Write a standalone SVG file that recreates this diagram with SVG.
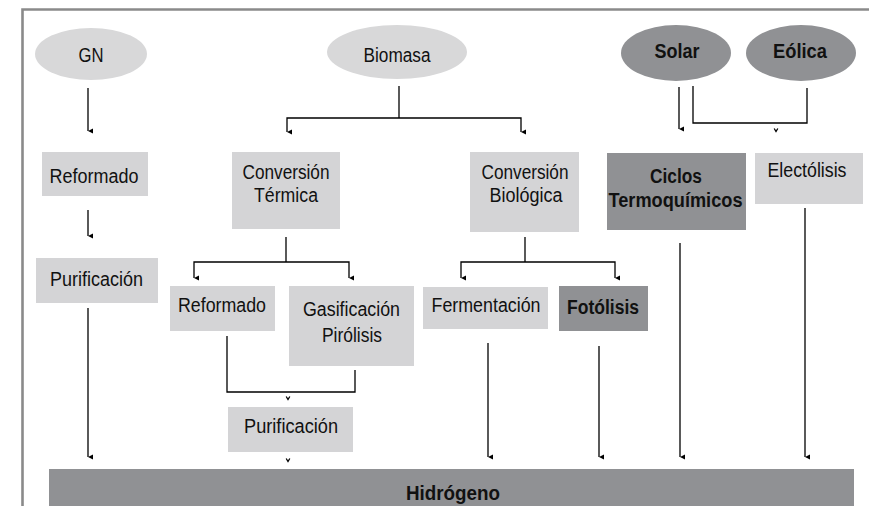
<svg xmlns="http://www.w3.org/2000/svg" width="869" height="506" viewBox="0 0 869 506">
<defs>
<marker id="ah" viewBox="0 0 6 6" refX="3" refY="6" markerWidth="6" markerHeight="6" markerUnits="userSpaceOnUse" orient="auto-start-reverse">
<path d="M0.6,1 L3,6 L5.4,1 Z" fill="#000"/>
</marker>
<style>
.lt{fill:#d4d4d6}
.el{fill:#d8d8d9}
.dk{fill:#909194}
.t{font-family:"Liberation Sans",Arial,sans-serif;font-size:20px;fill:#111;text-anchor:middle}
.b{font-weight:bold}
.c{fill:none;stroke:#000;stroke-width:1.3}
.ca{fill:none;stroke:#000;stroke-width:1.3;marker-end:url(#ah)}
.fr{fill:none;stroke:#8a8a8a;stroke-width:2.6}
</style>
</defs>
<rect width="869" height="506" fill="#fff"/>
<path class="fr" d="M22.5,506 V9.5 H869"/>

<g id="connectors">
<path class="ca" d="M88,88 V131"/>
<path class="ca" d="M88,210 V236"/>
<path class="ca" d="M88,308 V457"/>
<path class="c" d="M399,86 V118"/>
<path class="ca" d="M399,118 H287 V132"/>
<path class="ca" d="M399,118 H521 V132"/>
<path class="c" d="M286,237 V262"/>
<path class="ca" d="M286,262 H194 V278"/>
<path class="ca" d="M286,262 H349 V278"/>
<path class="c" d="M525,237 V262"/>
<path class="ca" d="M525,262 H461 V278"/>
<path class="ca" d="M525,262 H615 V278"/>
<path class="c" d="M227,336 V392 H355 V370"/>
<path class="c" d="M286.2,396.5 L288,399.5 L289.8,396.5"/>
<path class="c" d="M286.2,458.5 L288,461.5 L289.8,458.5"/>
<path class="ca" d="M488,343 V457"/>
<path class="ca" d="M599,346 V457"/>
<path class="ca" d="M679,87 V129"/>
<path class="c" d="M693,86 V123 H807 V88"/>
<path class="c" d="M774.2,128.5 L776,131.5 L777.8,128.5"/>
<path class="ca" d="M680,243 V457"/>
<path class="ca" d="M805,208 V457"/>
</g>

<g id="gn"><ellipse class="el" cx="91" cy="54" rx="56" ry="26"/><text class="t" x="91" y="62" textLength="25" lengthAdjust="spacingAndGlyphs">GN</text></g>
<g id="biomasa"><ellipse class="el" cx="397" cy="52" rx="70" ry="27"/><text class="t" x="397" y="62" textLength="67" lengthAdjust="spacingAndGlyphs">Biomasa</text></g>
<g id="solar"><ellipse class="dk" cx="676" cy="53" rx="55" ry="28"/><text class="t b" x="677" y="58" textLength="45" lengthAdjust="spacingAndGlyphs">Solar</text></g>
<g id="eolica"><ellipse class="dk" cx="801" cy="53" rx="55" ry="28"/><text class="t b" x="800" y="58" textLength="54" lengthAdjust="spacingAndGlyphs">Eólica</text></g>

<g id="reformado1"><rect class="lt" x="42" y="152" width="106" height="44"/><text class="t" x="94" y="183" textLength="89" lengthAdjust="spacingAndGlyphs">Reformado</text></g>
<g id="purificacion1"><rect class="lt" x="36" y="258" width="122" height="45"/><text class="t" x="96.5" y="286" textLength="93" lengthAdjust="spacingAndGlyphs">Purificación</text></g>

<g id="conv-termica"><rect class="lt" x="232" y="152" width="108" height="77"/><text class="t" x="286" y="179" textLength="87" lengthAdjust="spacingAndGlyphs">Conversión</text><text class="t" x="286" y="202" textLength="64" lengthAdjust="spacingAndGlyphs">Térmica</text></g>
<g id="conv-biologica"><rect class="lt" x="470" y="152" width="109" height="80"/><text class="t" x="525" y="179" textLength="87" lengthAdjust="spacingAndGlyphs">Conversión</text><text class="t" x="526" y="202" textLength="73" lengthAdjust="spacingAndGlyphs">Biológica</text></g>

<g id="ciclos"><rect class="dk" x="607" y="153" width="139" height="77"/><text class="t b" x="676" y="183" textLength="52" lengthAdjust="spacingAndGlyphs">Ciclos</text><text class="t b" x="675.5" y="207" textLength="134" lengthAdjust="spacingAndGlyphs">Termoquímicos</text></g>
<g id="electolisis"><rect class="lt" x="755" y="153" width="108" height="51"/><text class="t" x="807" y="177" textLength="79" lengthAdjust="spacingAndGlyphs">Electólisis</text></g>

<g id="reformado2"><rect class="lt" x="170" y="286" width="105" height="45"/><text class="t" x="222" y="312" textLength="88" lengthAdjust="spacingAndGlyphs">Reformado</text></g>
<g id="gasificacion"><rect class="lt" x="289" y="286" width="125" height="80"/><text class="t" x="351.5" y="316" textLength="97" lengthAdjust="spacingAndGlyphs">Gasificación</text><text class="t" x="352" y="342" textLength="60" lengthAdjust="spacingAndGlyphs">Pirólisis</text></g>
<g id="fermentacion"><rect class="lt" x="423" y="287" width="125" height="42"/><text class="t" x="486" y="312" textLength="109" lengthAdjust="spacingAndGlyphs">Fermentación</text></g>
<g id="fotolisis"><rect class="dk" x="559" y="286" width="89" height="45"/><text class="t b" x="603" y="314" textLength="72" lengthAdjust="spacingAndGlyphs">Fotólisis</text></g>

<g id="purificacion2"><rect class="lt" x="228" y="407" width="125" height="45"/><text class="t" x="291" y="433" textLength="94" lengthAdjust="spacingAndGlyphs">Purificación</text></g>

<g id="hidrogeno"><rect class="dk" x="49" y="469" width="805" height="37"/><text class="t b" x="453" y="500" textLength="94" lengthAdjust="spacingAndGlyphs">Hidrógeno</text></g>
</svg>
